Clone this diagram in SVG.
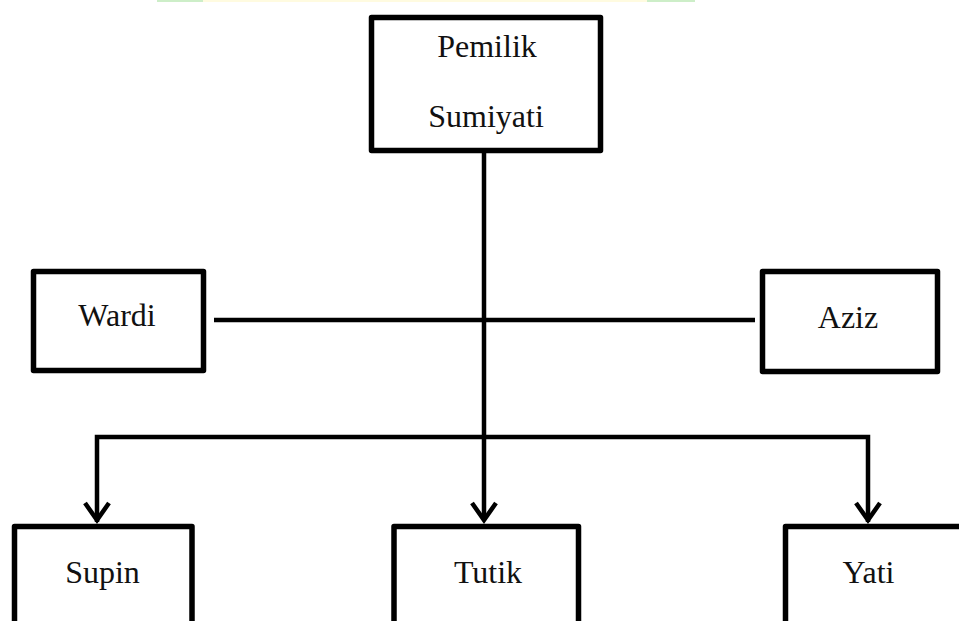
<svg xmlns="http://www.w3.org/2000/svg" width="959" height="621" viewBox="0 0 959 621">
<style>
.box{fill:#fff;stroke:#000;stroke-width:5.5;stroke-linejoin:round}
.lbl{font-family:"Liberation Serif","Times New Roman",serif;font-size:32px;fill:#111;text-anchor:middle}
.ln{fill:none;stroke:#000;stroke-width:4.5}
</style>
<rect x="0" y="0" width="959" height="621" fill="#fff"/>
<rect x="157" y="0" width="490" height="2" fill="#fffbe0"/>
<rect x="157" y="0" width="46" height="2" fill="#cdeec8"/>
<rect x="647" y="0" width="48" height="2" fill="#cdeec8"/>
<g id="connectors">
<line class="ln" x1="484" y1="152" x2="484" y2="520"/>
<line class="ln" x1="214" y1="320" x2="755" y2="320"/>
<polyline class="ln" points="97,522 97,437 868,437 868,522"/>
<polyline class="ln" points="85,503 97,520 109,503"/>
<polyline class="ln" points="472,503 484,520 496,503"/>
<polyline class="ln" points="856,503 868,520 880,503"/>
</g>
<g id="pemilik">
<rect class="box" x="371.5" y="17.5" width="229" height="133"/>
<text class="lbl" x="487" y="57">Pemilik</text>
<text class="lbl" x="486" y="127">Sumiyati</text>
</g>
<g id="wardi">
<rect class="box" x="33.5" y="271.5" width="170" height="99"/>
<text class="lbl" x="117" y="326">Wardi</text>
</g>
<g id="aziz">
<rect class="box" x="762.5" y="271.5" width="175" height="100"/>
<text class="lbl" x="848" y="328">Aziz</text>
</g>
<g id="supin">
<rect class="box" x="14.5" y="526.5" width="177.5" height="120"/>
<text class="lbl" x="102.5" y="583">Supin</text>
</g>
<g id="tutik">
<rect class="box" x="394" y="526.5" width="184.5" height="120"/>
<text class="lbl" x="488" y="583">Tutik</text>
</g>
<g id="yati">
<rect class="box" x="785.5" y="526.5" width="200" height="120"/>
<text class="lbl" x="868.5" y="583">Yati</text>
</g>
</svg>
